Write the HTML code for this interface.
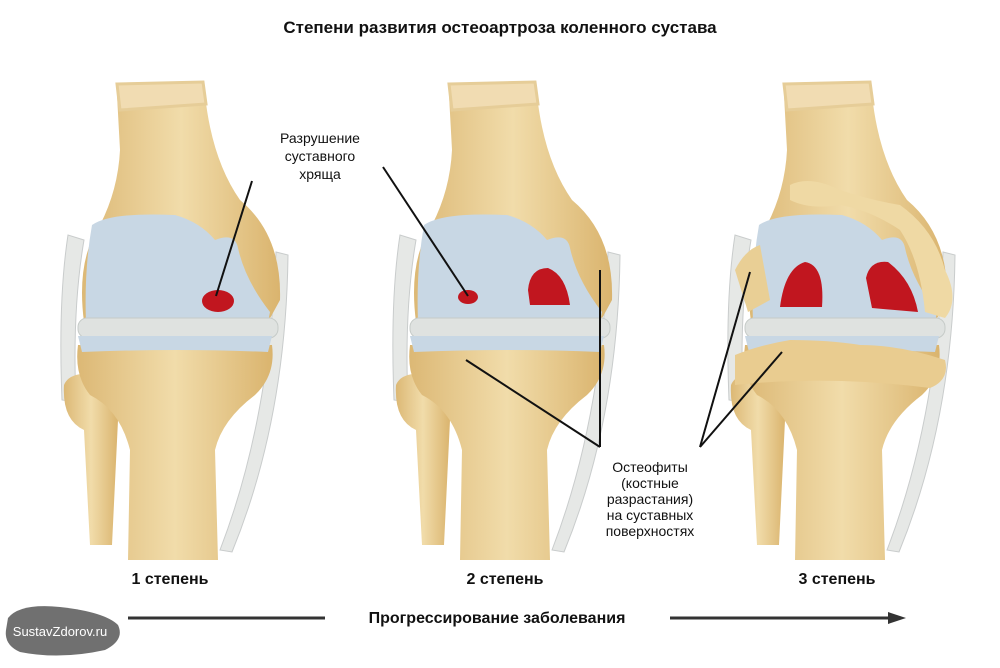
<!DOCTYPE html>
<html><head><meta charset="utf-8"><style>
body{margin:0;background:#fff;}
svg{display:block;font-family:"Liberation Sans",Arial,sans-serif;}
</style></head><body>
<svg width="1000" height="668" viewBox="0 0 1000 668" xmlns="http://www.w3.org/2000/svg">
<defs>
<linearGradient id="bone" x1="0" y1="0" x2="1" y2="0">
<stop offset="0" stop-color="#dcb875"/><stop offset="0.5" stop-color="#f1dcaa"/><stop offset="1" stop-color="#dab46e"/>
</linearGradient>
<g id="knee">
  <path d="M68 235 Q58 300 62 400 L76 402 Q72 310 84 240 Z" fill="#e6e8e6" stroke="#c9cccc" stroke-width="1"/>
  <path d="M276 252 L288 255 Q286 420 232 552 L220 550 Q270 420 276 252 Z" fill="#e6e8e6" stroke="#c9cccc" stroke-width="1"/>
  <path d="M64 385 Q70 370 100 375 Q120 385 118 420 L112 545 L90 545 L84 430 Q62 420 64 385 Z" fill="url(#bone)"/>
  <path d="M78 345 L272 345 Q276 375 255 395 Q222 420 215 450 L218 560 L128 560 L130 450 Q120 410 90 395 Q74 375 78 345 Z" fill="url(#bone)"/>
  <path d="M117 95 L205 95 Q212 160 240 200 Q282 235 280 300 L268 322 L84 322 Q76 260 100 225 Q118 190 120 150 Z" fill="url(#bone)"/>
  <path d="M117 84 L203 82 L206 104 L120 110 Z" fill="#f1dcb2" stroke="#e6cd98" stroke-width="3"/>
  <path d="M92 225 Q110 212 175 215 Q200 222 215 240 Q235 232 238 248 Q245 280 270 312 L268 322 L86 322 Q84 270 92 225 Z" fill="#c8d7e4"/>
  <rect x="78" y="318" width="200" height="20" rx="9" fill="#dfe2e0" stroke="#c6cbc8"/>
  <path d="M78 336 L272 336 L268 352 Q180 348 82 352 Z" fill="#c8d7e4"/>
</g>
</defs>
<text x="500" y="33" text-anchor="middle" font-size="17" font-weight="bold" fill="#111">Степени развития остеоартроза коленного сустава</text>

<use href="#knee"/>
<use href="#knee" transform="translate(332,0)"/>
<use href="#knee" transform="translate(667,0)"/>

<!-- osteophytes knee 3 -->
<path d="M790 185 Q810 175 840 190 Q870 200 900 205 Q935 230 945 270 Q960 300 945 318 L925 312 Q920 260 900 230 Q870 210 840 205 Q810 210 790 200 Z" fill="#efd9a4"/>
<path d="M735 270 Q745 250 760 245 L770 300 L748 312 Z" fill="#e9cf95"/>
<path d="M735 355 Q760 345 790 340 Q830 340 860 345 Q900 345 945 360 Q950 380 930 388 Q830 375 735 385 Z" fill="#e9cc90"/>

<ellipse cx="218" cy="301" rx="16" ry="11" fill="#c1161f"/>
<ellipse cx="468" cy="297" rx="10" ry="7" fill="#c1161f"/>
<path d="M528 290 Q530 268 548 268 Q566 275 570 305 L530 305 Z" fill="#c1161f"/>
<path d="M780 307 Q785 268 805 262 Q825 265 822 307 Z" fill="#c1161f"/>
<path d="M866 278 Q870 260 888 262 Q912 280 918 312 L872 308 Z" fill="#c1161f"/>

<g font-size="14" fill="#111" text-anchor="middle">
<text x="320" y="143">Разрушение</text>
<text x="320" y="161">суставного</text>
<text x="320" y="179">хряща</text>
<text x="650" y="472">Остеофиты</text>
<text x="650" y="488">(костные</text>
<text x="650" y="504">разрастания)</text>
<text x="650" y="520">на суставных</text>
<text x="650" y="536">поверхностях</text>
</g>
<g stroke="#111" stroke-width="2" fill="none">
<line x1="252" y1="181" x2="216" y2="296"/>
<line x1="383" y1="167" x2="468" y2="296"/>
<line x1="600" y1="447" x2="466" y2="360"/>
<line x1="600" y1="447" x2="600" y2="270"/>
<line x1="700" y1="447" x2="750" y2="272"/>
<line x1="700" y1="447" x2="782" y2="352"/>
</g>

<g font-size="16" font-weight="bold" fill="#111" text-anchor="middle">
<text x="170" y="584">1 степень</text>
<text x="505" y="584">2 степень</text>
<text x="837" y="584">3 степень</text>
<text x="497" y="623">Прогрессирование заболевания</text>
</g>
<line x1="128" y1="618" x2="325" y2="618" stroke="#333" stroke-width="3"/>
<line x1="670" y1="618" x2="890" y2="618" stroke="#333" stroke-width="3"/>
<path d="M888 612 L906 618 L888 624 Z" fill="#333"/>

<path d="M8 618 Q20 603 60 607 Q105 612 118 625 Q125 640 105 650 Q60 660 20 652 Q4 645 6 630 Z" fill="#707070"/>
<text x="60" y="636" text-anchor="middle" font-size="13" fill="#fff">SustavZdorov.ru</text>
</svg>
</body></html>
